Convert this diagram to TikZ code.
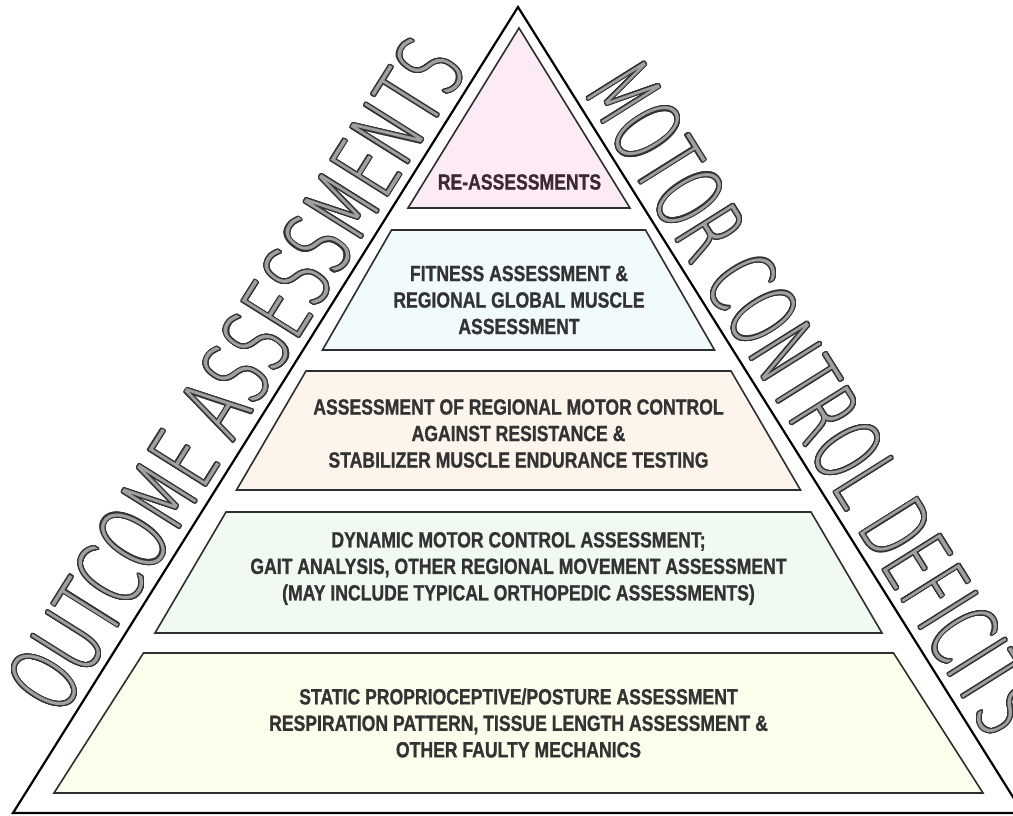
\documentclass[tikz,border=0pt]{standalone}
\usepackage{fontspec}
\usepackage{contour}
\newfontfamily\tierfont[FakeStretch=0.80,FakeBold=1]{Liberation Sans}
\newfontfamily\bigleft[FakeStretch=0.65]{DejaVuSans-ExtraLight.ttf}
\newfontfamily\bigright[FakeStretch=0.60]{DejaVuSans-ExtraLight.ttf}
\definecolor{pinkfill}{HTML}{FCEBF5}
\definecolor{bluefill}{HTML}{F1FAFC}
\definecolor{orangefill}{HTML}{FDF4EC}
\definecolor{greenfill}{HTML}{F1FAF1}
\definecolor{yellowfill}{HTML}{FDFDEC}
\definecolor{tierline}{HTML}{2E2E2E}
\definecolor{tiertext}{HTML}{333333}
\definecolor{pinktext}{HTML}{3A2833}
\definecolor{bigfill}{HTML}{A0A0A0}
\definecolor{bigline}{HTML}{333333}
\contourlength{1.1pt}
\contournumber{24}
\begin{document}
\begin{tikzpicture}[x=1pt,y=-1pt,
  tier/.style={draw=tierline,line width=1.6pt,line join=miter},
  tiertxt/.style={font=\tierfont\bfseries\fontsize{22}{26.5}\selectfont,text=tiertext,align=center,inner sep=0pt},
  bigtxtL/.style={font=\bigleft\fontsize{93}{93}\selectfont,text=bigfill,inner sep=0pt,anchor=base west,rotate=57.9},
  bigtxtR/.style={font=\bigright\fontsize{93}{93}\selectfont,text=bigfill,inner sep=0pt,anchor=base west,rotate=-57.9}]
\useasboundingbox (0,0) rectangle (1013,815);
\fill[white] (0,0) rectangle (1013,815);
% outer triangle
\draw[black,line width=2.2pt,line join=miter] (518,7) -- (1023,813) -- (13,813) -- cycle;
% tiers
\draw[tier,fill=pinkfill] (519,28) -- (630,208) -- (408,208) -- cycle;
\draw[tier,fill=bluefill] (391.5,230) -- (645.5,230) -- (714.5,350) -- (322.5,350) -- cycle;
\draw[tier,fill=orangefill] (306,371) -- (731,371) -- (800.5,490) -- (236.5,490) -- cycle;
\draw[tier,fill=greenfill] (226,512) -- (811,512) -- (882,633) -- (155,633) -- cycle;
\draw[tier,fill=yellowfill] (143.5,653) -- (893.5,653) -- (983,793) -- (54,793) -- cycle;
% tier texts
\node[tiertxt,text=pinktext] (t1) at (519.5,182) {RE-ASSESSMENTS};
\node[tiertxt] (t2) at (519,300) {FITNESS ASSESSMENT \&\\REGIONAL GLOBAL MUSCLE\\ASSESSMENT};
\node[tiertxt] (t3) at (518.5,433.5) {ASSESSMENT OF REGIONAL MOTOR CONTROL\\AGAINST RESISTANCE \&\\STABILIZER MUSCLE ENDURANCE TESTING};
\node[tiertxt] (t4) at (518.5,568.5) {DYNAMIC MOTOR CONTROL ASSESSMENT;\\GAIT ANALYSIS, OTHER REGIONAL MOVEMENT ASSESSMENT\\(MAY INCLUDE TYPICAL ORTHOPEDIC ASSESSMENTS)};
\node[tiertxt] (t5) at (518.5,723) {STATIC PROPRIOCEPTIVE/POSTURE ASSESSMENT\\RESPIRATION PATTERN, TISSUE LENGTH ASSESSMENT \&\\OTHER FAULTY MECHANICS};
% side titles
\node[bigtxtL] (left) at (60,719) {\contour{bigline}{OUTCOME ASSESSMENTS}};
\node[bigtxtR] (right) at (582,90) {\contour{bigline}{MOTOR CONTROL DEFICITS}};
\end{tikzpicture}
\end{document}
